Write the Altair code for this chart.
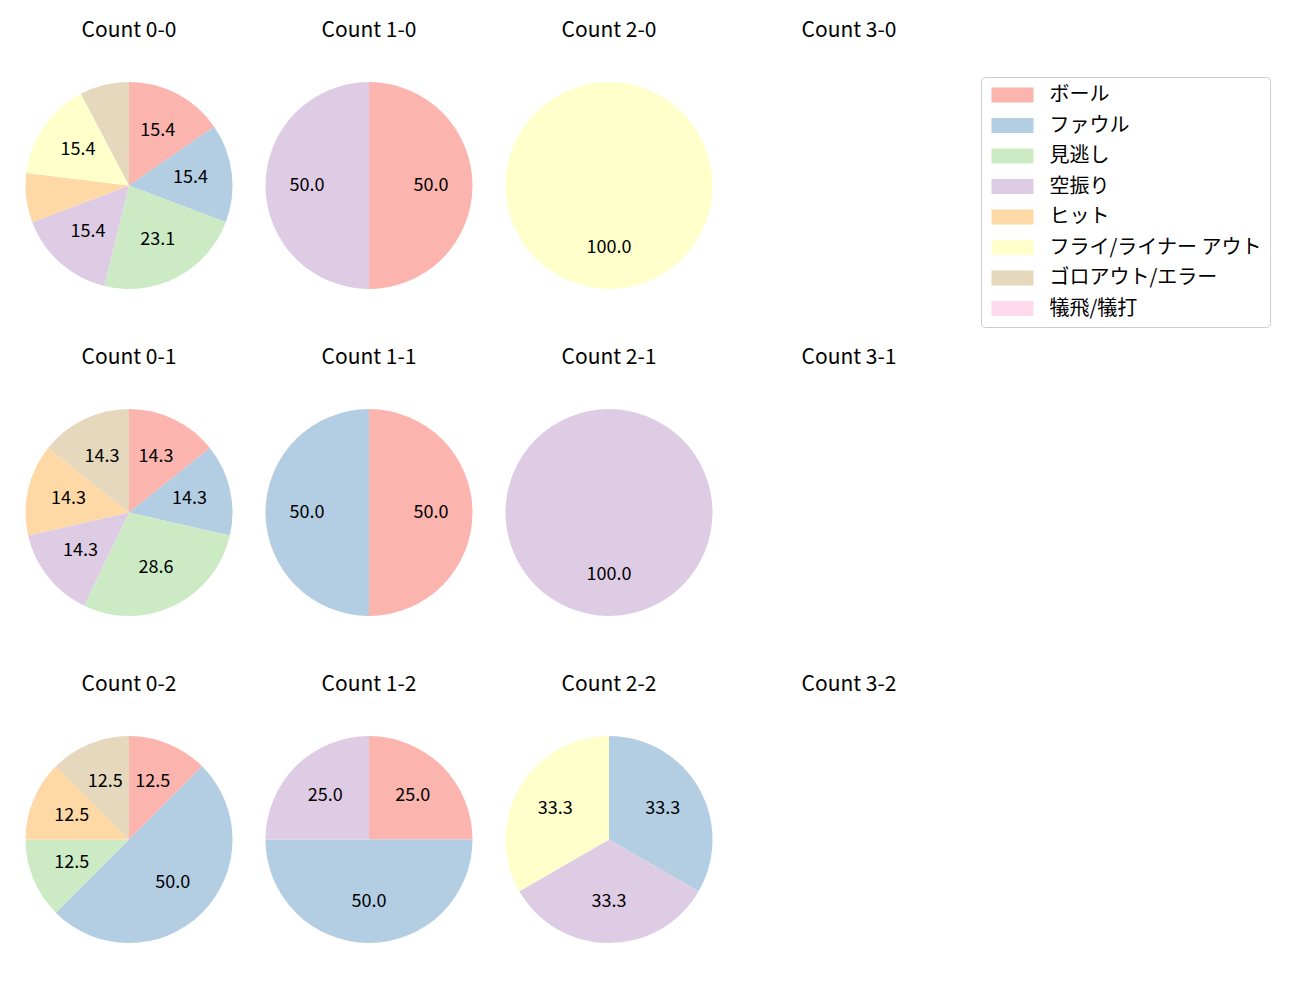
import altair as alt
import pandas as pd

FONT = "Noto Sans CJK JP"

categories = ["ボール", "ファウル", "見逃し", "空振り", "ヒット",
              "フライ/ライナー アウト", "ゴロアウト/エラー", "犠飛/犠打"]
colors = ["#fbb4ae", "#b3cde3", "#ccebc5", "#decbe4", "#fed9a6",
          "#ffffcc", "#e5d8bd", "#fddaec"]

count_labels = ["0-0", "1-0", "2-0", "3-0",
                "0-1", "1-1", "2-1", "3-1",
                "0-2", "1-2", "2-2", "3-2"]

# pitches per category (same order as categories) for each count
n_0_0 = [2, 2, 3, 2, 1, 2, 1, 0]
n_1_0 = [1, 0, 0, 1, 0, 0, 0, 0]
n_2_0 = [0, 0, 0, 0, 0, 1, 0, 0]
n_3_0 = [0, 0, 0, 0, 0, 0, 0, 0]
n_0_1 = [1, 1, 2, 1, 1, 0, 1, 0]
n_1_1 = [1, 1, 0, 0, 0, 0, 0, 0]
n_2_1 = [0, 0, 0, 1, 0, 0, 0, 0]
n_3_1 = [0, 0, 0, 0, 0, 0, 0, 0]
n_0_2 = [1, 4, 1, 0, 1, 0, 1, 0]
n_1_2 = [1, 2, 0, 1, 0, 0, 0, 0]
n_2_2 = [0, 1, 0, 1, 0, 1, 0, 0]
n_3_2 = [0, 0, 0, 0, 0, 0, 0, 0]

all_counts = [n_0_0, n_1_0, n_2_0, n_3_0,
              n_0_1, n_1_1, n_2_1, n_3_1,
              n_0_2, n_1_2, n_2_2, n_3_2]

rows = []
for cnt, ns in zip(count_labels, all_counts):
    total = sum(ns)
    for i, (cat, n) in enumerate(zip(categories, ns)):
        if n > 0:
            pct = 100.0 * n / total
            rows.append({"cnt": cnt, "cat": cat, "idx": i, "n": n,
                         "label": f"{pct:.1f}" if pct >= 10 else ""})
df = pd.DataFrame(rows)

color = alt.Color(
    "cat:N",
    scale=alt.Scale(domain=categories, range=colors),
    legend=alt.Legend(title=None),
)


def pie(cnt):
    base = alt.Chart(df).transform_filter(alt.datum.cnt == cnt).encode(
        theta=alt.Theta("n:Q", stack=True),
        order=alt.Order("idx:Q", sort="ascending"),
    )
    arc = base.mark_arc().encode(color=color)
    text = base.mark_text(radius=62, fontSize=18, font=FONT, color="black").encode(
        text="label:N", detail="cat:N"
    )
    return alt.layer(arc, text).properties(
        width=207, height=207, title=alt.Title(f"Count {cnt}")
    )


grid = []
for r in range(3):
    row = alt.hconcat(*[pie(count_labels[r * 4 + c]) for c in range(4)], spacing=33)
    row = row.resolve_scale(theta="independent")
    grid.append(row)

chart = (
    alt.vconcat(*grid, spacing=58)
    .resolve_scale(theta="independent")
    .properties(padding={"left": 17.5, "top": 12, "right": 5, "bottom": 5})
    .configure_view(stroke=None)
    .configure_title(fontSize=21, font=FONT, fontWeight="normal", color="black",
                     offset=41, anchor="middle")
    .configure_legend(
        orient="none", legendX=955.5, legendY=-5,
        strokeColor="#cccccc", cornerRadius=4, fillColor="white", padding=8,
        symbolType="M-2.8,-1H2.8V1H-2.8Z", symbolSize=225, symbolOffset=13.5,
        symbolStrokeWidth=0, symbolOpacity=1,
        labelOffset=27, labelFontSize=20, labelFont=FONT, labelColor="black",
        labelLimit=400, rowPadding=10.5,
    )
)

chart.save("out.html", embed_options={"renderer": "svg", "actions": False})
